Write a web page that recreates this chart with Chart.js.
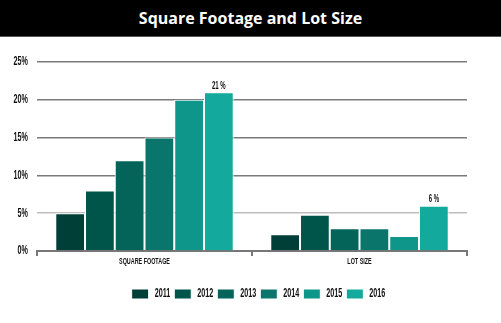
<!DOCTYPE html>
<html>
<head>
<meta charset="utf-8">
<script src="https://cdn.jsdelivr.net/npm/chart.js@4"></script>
<style>
  html, body { margin: 0; padding: 0; background: #fff; }
  #wrap { width: 501px; height: 323px; position: relative; overflow: hidden; }
  #title {
    height: 36px; background: #000; color: #fff;
    font: bold 16px "Open Sans", "DejaVu Sans", sans-serif;
    text-align: center; line-height: 36px; border-bottom: 1px solid #555;
  }
  #box { position: absolute; left: 0; top: 37px; width: 501px; height: 286px; }
</style>
</head>
<body>
<div id="wrap">
  <div id="title">Square Footage and Lot Size</div>
  <div id="box"><canvas id="chart"></canvas></div>
</div>
<script>
'use strict';

// --- data ---
const categories = ['SQUARE FOOTAGE', 'LOT SIZE'];
const years = ['2011', '2012', '2013', '2014', '2015', '2016'];
const values2011 = [5, 2.2];
const values2012 = [8, 4.8];
const values2013 = [12, 3];
const values2014 = [15, 3];
const values2015 = [20, 2];
const values2016 = [21, 6];
const yTicks = [0, 5, 10, 15, 20, 25];

const seriesValues = [values2011, values2012, values2013, values2014, values2015, values2016];
const colors = ['#003f37', '#00554a', '#04645a', '#0a766b', '#0f968a', '#13a99c'];

// no condensed face is installed, so text in the "Narrow" family is squeezed horizontally
const condensed = 'Narrow, "Liberation Sans", Arial, sans-serif';
const SQUEEZE = 0.6;

const ctx = document.getElementById('chart').getContext('2d');
const origFill = ctx.fillText.bind(ctx);
const origMeasure = ctx.measureText.bind(ctx);
ctx.fillText = (text, x, y, maxWidth) => {
    if (ctx.font.includes('Narrow')) {
        const w = origMeasure(text).width * SQUEEZE;
        maxWidth = maxWidth === undefined ? w : Math.min(maxWidth, w);
    }
    return maxWidth === undefined ? origFill(text, x, y) : origFill(text, x, y, maxWidth);
};
ctx.measureText = (text) => {
    const m = origMeasure(text);
    if (!ctx.font.includes('Narrow')) return m;
    return {
        width: m.width * SQUEEZE,
        actualBoundingBoxLeft: m.actualBoundingBoxLeft * SQUEEZE,
        actualBoundingBoxRight: m.actualBoundingBoxRight * SQUEEZE,
        actualBoundingBoxAscent: m.actualBoundingBoxAscent,
        actualBoundingBoxDescent: m.actualBoundingBoxDescent
    };
};

// labels above the 2016 bars
const topLabels = {
    id: 'topLabels',
    afterDatasetsDraw(chart) {
        const last = chart.data.datasets.length - 1;
        const meta = chart.getDatasetMeta(last);
        const c = chart.ctx;
        c.save();
        c.font = 'bold 10px ' + condensed;
        c.fillStyle = '#111';
        c.textAlign = 'center';
        c.textBaseline = 'bottom';
        meta.data.forEach((bar, i) => {
            c.fillText(chart.data.datasets[last].data[i] + ' %', bar.x, bar.y - 1);
        });
        c.restore();
    }
};

// the legend in the reference sits a bit right of centre
const nudgeLegend = {
    id: 'nudgeLegend',
    afterLayout(chart) {
        chart.legend.left += 50;
    }
};

new Chart(ctx, {
    type: 'bar',
    data: {
        labels: categories,
        datasets: years.map((y, i) => ({
            label: y,
            data: seriesValues[i],
            backgroundColor: colors[i],
            borderColor: '#ffffff',
            borderWidth: 1,
            borderSkipped: 'bottom',
            categoryPercentage: 0.83,
            barPercentage: 1
        }))
    },
    options: {
        responsive: true,
        maintainAspectRatio: false,
        animation: false,
        layout: { padding: { top: 25, left: 0, right: 34, bottom: 13 } },
        plugins: {
            legend: {
                position: 'bottom',
                labels: {
                    boxWidth: 17,
                    boxHeight: 10,
                    padding: 4,
                    color: '#111',
                    font: { family: condensed, size: 12, weight: 'bold' }
                }
            },
            tooltip: { enabled: false }
        },
        scales: {
            x: {
                afterFit: (s) => { s.height = 33; },
                grid: { drawOnChartArea: false, drawTicks: true, tickLength: 5, color: '#777', lineWidth: 2 },
                border: { color: '#777', width: 2 },
                ticks: { color: '#111', padding: 0, font: { family: condensed, size: 9, weight: 'bold' } }
            },
            y: {
                min: 0,
                max: 25,
                afterFit: (s) => { s.width = 37; },
                afterBuildTicks: (s) => { s.ticks = yTicks.map(v => ({ value: v })); },
                grid: {
                    drawTicks: false,
                    lineWidth: 1.5,
                    color: (c) => c.tick && c.tick.value === 5 ? '#bdbdbd' : '#7a7a7a'
                },
                border: { display: false },
                ticks: {
                    padding: 9,
                    color: '#111',
                    font: { family: condensed, size: 12, weight: 'bold' },
                    callback: (v) => v + '%'
                }
            }
        }
    },
    plugins: [topLabels, nudgeLegend]
});
</script>
</body>
</html>
